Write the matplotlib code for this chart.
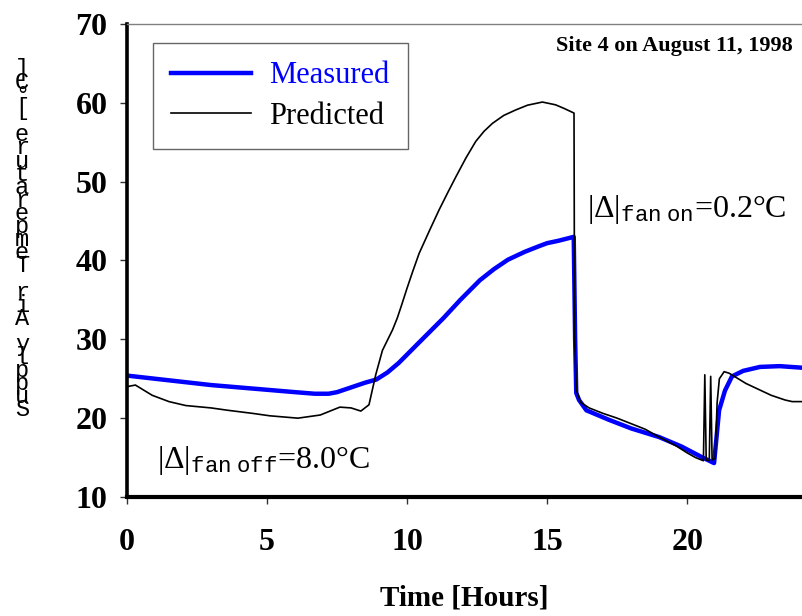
import matplotlib
matplotlib.use("Agg")
import matplotlib.pyplot as plt

# %% Datos

tiempo_medido = [0, 1, 2, 3, 4, 5, 6, 6.7, 7.2, 7.5, 8.0, 8.5, 8.9, 9.3, 9.7, 10.4, 11.3, 11.9, 12.6,
                 13.1, 13.6, 14.2, 14.7, 15.0, 15.4, 15.95, 16.0, 16.04, 16.14, 16.4, 17.2, 18.0,
                 19.0, 19.8, 20.5, 20.96, 21.14, 21.35, 21.6, 22.0, 22.6, 23.3, 24.1]
temp_medida = [25.4, 25.0, 24.6, 24.2, 23.9, 23.6, 23.3, 23.1, 23.1, 23.3, 23.9, 24.5, 24.9, 25.8,
               27.0, 29.5, 32.7, 35.0, 37.5, 38.9, 40.1, 41.1, 41.8, 42.2, 42.5, 43.0, 30.0, 23.2,
               22.3, 21.0, 19.8, 18.7, 17.6, 16.4, 15.1, 14.3, 21.0, 23.5, 25.3, 26.0, 26.5, 26.6,
               26.4]

tiempo_predicho = [0, 0.3, 0.9, 1.5, 2.1, 3.0, 3.6, 4.5, 5.1, 6.1, 6.9, 7.6, 8.0, 8.35, 8.64, 8.88,
                   9.12, 9.48, 9.65, 9.8, 10.0, 10.2, 10.43, 10.8, 11.14, 11.45, 11.74, 12.1, 12.45,
                   12.75, 13.05, 13.45, 13.88, 14.3, 14.83, 15.3, 15.6, 15.96, 15.98, 16.05, 16.2,
                   16.5, 17.0, 17.5, 18.0, 18.5, 19.0, 19.6, 20.0, 20.3, 20.58, 20.63, 20.68, 20.79,
                   20.84, 20.89, 21.0, 21.07, 21.15, 21.32, 21.5, 22.1, 23.0, 23.5, 23.75, 24.1]
temp_predicha = [24.0, 24.2, 22.9, 22.1, 21.6, 21.3, 21.0, 20.6, 20.3, 20.0, 20.4, 21.4, 21.3, 20.9,
                 21.7, 25.5, 28.6, 31.2, 32.7, 34.3, 36.5, 38.6, 40.9, 43.8, 46.4, 48.6, 50.6, 53.0,
                 55.1, 56.4, 57.4, 58.4, 59.1, 59.7, 60.1, 59.75, 59.3, 58.7, 30.0, 23.5, 22.0, 21.3,
                 20.6, 20.0, 19.3, 18.6, 17.6, 16.5, 15.6, 15.0, 14.6, 25.5, 14.7, 14.6, 25.3, 14.7,
                 14.9, 22.0, 25.0, 25.9, 25.7, 24.4, 22.9, 22.3, 22.1, 22.1]

ticks_x = [0, 5, 10, 15, 20]
ticks_y = [10, 20, 30, 40, 50, 60, 70]
etiqueta_y = "Supply Air Temperature [°C]"

# %% Grafico

plt.rcParams["mathtext.fontset"] = "custom"
plt.rcParams["mathtext.rm"] = "Liberation Serif"
plt.rcParams["mathtext.it"] = "Liberation Serif:italic"
plt.rcParams["mathtext.tt"] = "Liberation Mono"
plt.rcParams["font.family"] = "Liberation Serif"

fig = plt.figure(figsize=(8.02, 6.16), dpi=100)
ax = fig.add_axes([127 / 802, 1 - 497 / 616, 675 / 802, 473 / 616])

ax.plot(tiempo_medido, temp_medida, "-", color="#0000ff", lw=3.2, label="Measured", zorder=2)
ax.plot(tiempo_predicho, temp_predicha, "-", color="black", lw=1.2, label="Predicted", zorder=3)

ax.set_xlim(0, 24.1)
ax.set_ylim(10, 70)
ax.set_xticks(ticks_x)
ax.set_yticks(ticks_y)
for lab in ax.get_xticklabels() + ax.get_yticklabels():
    lab.set_fontweight("bold")
    lab.set_fontsize(23)
ax.tick_params(axis="y", direction="out", length=5, width=1, color="#333333", pad=9)
ax.tick_params(axis="x", direction="out", length=5, width=1, color="#333333", pad=17)

ax.spines["left"].set_linewidth(2.6)
ax.spines["bottom"].set_linewidth(3.0)
ax.spines["top"].set_color("#808080")
ax.spines["top"].set_linewidth(1.0)
ax.spines["right"].set_visible(False)

ax.set_xlabel("Time [Hours]", fontsize=21, fontweight="bold", labelpad=20)

# Etiqueta del eje y con letras apiladas
for i, letra in enumerate(etiqueta_y):
    if letra == " ":
        continue
    fig.text(22 / 802, 1 - (410 - i * 13.1) / 616, letra, ha="center", va="center",
             family="Liberation Mono", fontsize=17)

leg = ax.legend(loc="upper left", bbox_to_anchor=(153 / 802, 1 - 43 / 616), bbox_transform=fig.transFigure,
                fontsize=22, frameon=True, fancybox=False, edgecolor="#404040", borderaxespad=0,
                handlelength=2.6, handletextpad=0.6, labelspacing=0.38, borderpad=0.6)
leg.get_frame().set_linewidth(1.0)
leg.get_texts()[0].set_color("#0000ff")

ax.text(1.07, 13.7, r"$\mathrm{|\Delta|}_{\mathtt{fan\ off}}$=8.0°C", fontsize=23, va="baseline")
ax.text(16.43, 45.5, r"$\mathrm{|\Delta|}_{\mathtt{fan\ on}}$=0.2°C", fontsize=23, va="baseline")

fig.text(793 / 802, 1 - 46 / 616, "Site 4 on August 11, 1998", ha="right", va="center",
         fontsize=16, fontweight="bold")

fig.savefig("out.png", dpi=100)
